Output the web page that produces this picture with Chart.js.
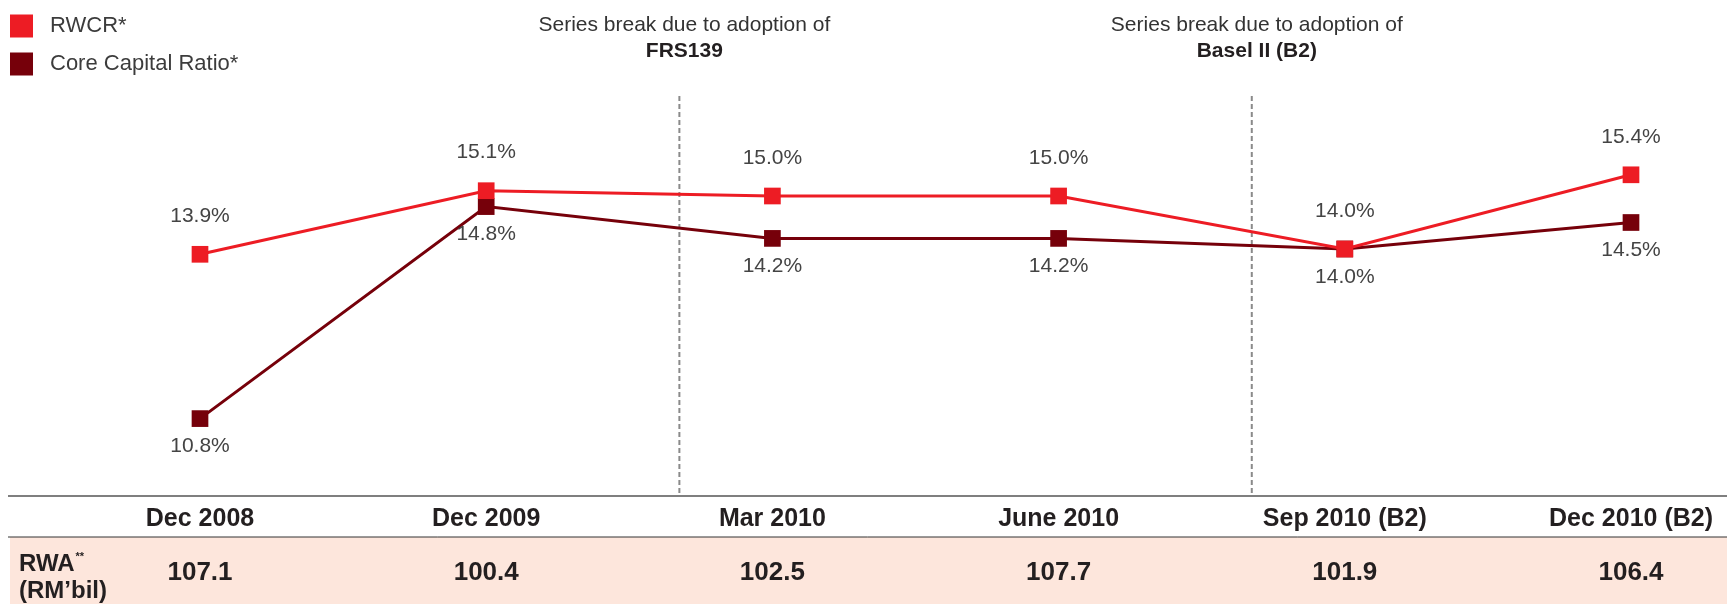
<!DOCTYPE html>
<html>
<head>
<meta charset="utf-8">
<script src="https://cdn.jsdelivr.net/npm/chart.js@4"></script>
<style>
  html, body { margin: 0; padding: 0; background: #ffffff; }
  #wrap { position: relative; width: 1727px; height: 605px; }
</style>
</head>
<body>
<div id="wrap"><canvas id="chart"></canvas></div>
<script>
/* ---- data ---------------------------------------------------------------- */
const categories  = ['Dec 2008', 'Dec 2009', 'Mar 2010', 'June 2010', 'Sep 2010 (B2)', 'Dec 2010 (B2)'];
const rwcr        = [13.9, 15.1, 15.0, 15.0, 14.0, 15.4];
const coreCapital = [10.8, 14.8, 14.2, 14.2, 14.0, 14.5];
const rwa         = ['107.1', '100.4', '102.5', '107.7', '101.9', '106.4'];
const breakAfter  = [1, 3];                       // series break sits after these category indexes
const breakLabels = ['FRS139', 'Basel II (B2)'];
const seriesNames = ['RWCR*', 'Core Capital Ratio*'];

const RED  = '#ed1c24';
const DARK = '#76000a';
const FONT = '"Liberation Sans", Arial, sans-serif';

/* ---- helper: draw text ---------------------------------------------------- */
function text(ctx, str, x, y, font, color, align = 'center') {
  ctx.font = font;
  ctx.fillStyle = color;
  ctx.textAlign = align;
  ctx.textBaseline = 'middle';
  ctx.fillText(str, x, y);
}

/* ---- background: legend, breaks, RWA table -------------------------------- */
const decorPlugin = {
  id: 'decor',
  beforeDatasetsDraw(chart) {
    const { ctx, scales: { x } } = chart;
    const W = chart.width;
    ctx.save();

    // legend
    [RED, DARK].forEach((c, i) => {
      const cy = 26 + i * 38;
      ctx.fillStyle = c;
      ctx.fillRect(10, cy - 11.5, 23, 23);
      text(ctx, seriesNames[i], 50, cy, `22px ${FONT}`, '#3c3c3c', 'left');
    });

    // table
    ctx.fillStyle = '#fde6dc';
    ctx.fillRect(10, 537, W - 10, 67);
    ctx.strokeStyle = '#555';
    ctx.lineWidth = 1.5;
    ctx.beginPath(); ctx.moveTo(8, 496); ctx.lineTo(W, 496); ctx.stroke();
    ctx.strokeStyle = '#333';
    ctx.lineWidth = 1;
    ctx.beginPath(); ctx.moveTo(8, 537); ctx.lineTo(W, 537); ctx.stroke();

    categories.forEach((c, i) => {
      const px = x.getPixelForValue(i);
      text(ctx, c, px, 519, `bold 25px ${FONT}`, '#231f20');
      text(ctx, rwa[i], px, 573, `bold 26px ${FONT}`, '#231f20');
    });
    text(ctx, 'RWA', 19, 564, `bold 24px ${FONT}`, '#231f20', 'left');
    ctx.font = `bold 24px ${FONT}`;
    const rw = ctx.measureText('RWA').width;
    text(ctx, '**', 19 + rw + 1, 557, `bold 11px ${FONT}`, '#231f20', 'left');
    text(ctx, '(RM\u2019bil)', 19, 591, `bold 24px ${FONT}`, '#231f20', 'left');

    // series-break markers
    breakAfter.forEach((b, i) => {
      const x0 = x.getPixelForValue(b), x1 = x.getPixelForValue(b + 1);
      const bx = x0 + 0.675 * (x1 - x0);
      ctx.strokeStyle = '#8a8a8a';
      ctx.lineWidth = 2;
      ctx.setLineDash([5, 3]);
      ctx.beginPath(); ctx.moveTo(bx, 96); ctx.lineTo(bx, 495); ctx.stroke();
      ctx.setLineDash([]);
      text(ctx, 'Series break due to adoption of', bx + 5, 25, `21px ${FONT}`, '#333');
      text(ctx, breakLabels[i], bx + 5, 51, `bold 21px ${FONT}`, '#231f20');
    });
    ctx.restore();
  },

  /* value labels: RWCR above, core capital below */
  afterDatasetsDraw(chart) {
    const { ctx } = chart;
    ctx.save();
    chart.data.datasets.forEach((ds, di) => {
      const meta = chart.getDatasetMeta(di);
      meta.data.forEach((pt, i) => {
        const dy = di === 0 ? -38 : 28;
        text(ctx, ds.data[i].toFixed(1) + '%', pt.x, pt.y + dy, `21px ${FONT}`, '#444');
      });
    });
    ctx.restore();
  }
};

/* ---- chart --------------------------------------------------------------- */
new Chart(document.getElementById('chart'), {
  type: 'line',
  data: {
    labels: categories,
    datasets: [
      {
        label: seriesNames[0],
        data: rwcr,
        borderColor: RED,
        backgroundColor: RED,
        borderWidth: 3,
        pointStyle: 'rect',
        pointRadius: 11.8,
        pointBorderWidth: 0,
        pointBackgroundColor: RED,
        tension: 0
      },
      {
        label: seriesNames[1],
        data: coreCapital,
        borderColor: DARK,
        backgroundColor: DARK,
        borderWidth: 3,
        pointStyle: 'rect',
        pointRadius: 11.8,
        pointBorderWidth: 0,
        pointBackgroundColor: DARK,
        tension: 0
      }
    ]
  },
  options: {
    responsive: true,
    maintainAspectRatio: false,
    animation: false,
    clip: false,
    layout: { padding: { left: 200, right: 96, top: 90, bottom: 144 } },
    plugins: { legend: { display: false }, tooltip: { enabled: false } },
    scales: {
      x: { display: false },
      y: { display: false, min: 10, max: 17 }
    }
  },
  plugins: [decorPlugin]
});
</script>
</body>
</html>
